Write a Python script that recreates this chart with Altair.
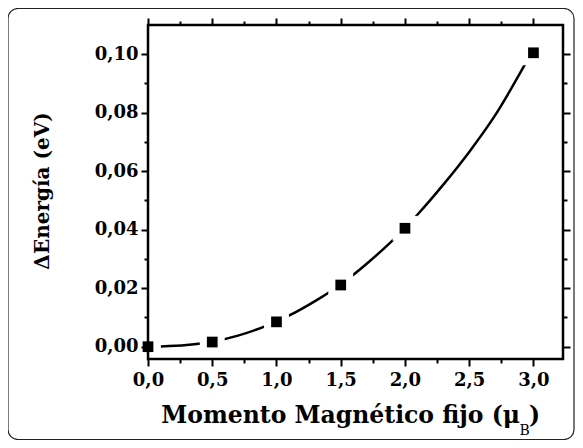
import altair as alt
import pandas as pd

# measured points
moment = [0.0, 0.5, 1.0, 1.5, 2.0, 3.0]
energy = [0.0, 0.0016, 0.0085, 0.0211, 0.0405, 0.1005]

# fitted curve
fit_x = [0.1, 0.3, 0.5, 0.7, 0.9, 1.1, 1.3, 1.5, 1.7, 1.9, 2.1, 2.3, 2.5, 2.7, 2.95]
fit_y = [0.0001, 0.0006, 0.0017, 0.0038, 0.0068, 0.0107, 0.0156, 0.0213, 0.0283, 0.0362, 0.0453, 0.0555, 0.0666, 0.0790, 0.0978]

x_major = [0.0, 0.5, 1.0, 1.5, 2.0, 2.5, 3.0]
x_minor = [0.25, 0.75, 1.25, 1.75, 2.25, 2.75]
y_major = [0.0, 0.02, 0.04, 0.06, 0.08, 0.10]
y_minor = [0.01, 0.03, 0.05, 0.07, 0.09]

x_title = "Momento Magnético fijo (μ"
x_title_sub = "B"
y_title = "ΔEnergía (eV)"

FONT = "DejaVu Serif"
pts = pd.DataFrame({"m": moment, "e": energy})
fit = pd.DataFrame({"m": fit_x, "e": fit_y})

xs = alt.Scale(domain=[0, 3.23], nice=False, zero=False)
ys = alt.Scale(domain=[-0.0042, 0.11], nice=False, zero=False)

def axis_layer(orient_x, orient_y, xvals, yvals, size, labels):
    ax = None
    ay = None
    common = dict(domain=False, grid=False, tickColor="black", tickWidth=2,
                  tickSize=size, title=None, labelFont=FONT, labelFontWeight="bold",
                  labelFontSize=18, labelColor="black", labelFlush=False, labelOverlap=False)
    if orient_x:
        ax = alt.Axis(orient=orient_x, values=xvals, labels=labels, labelPadding=5,
                      labelExpr="replace(format(datum.value, '.1f'), '.', ',')", **common)
    if orient_y:
        ay = alt.Axis(orient=orient_y, values=yvals, labels=labels, labelPadding=3,
                      labelExpr="replace(format(datum.value, '.2f'), '.', ',')", **common)
    return alt.Chart(pts).mark_point(opacity=0).encode(
        x=alt.X("m:Q", scale=xs, axis=ax),
        y=alt.Y("e:Q", scale=ys, axis=ay),
    )

layers = [
    axis_layer("bottom", "left", x_major, y_major, 7, True),
    axis_layer("bottom", "left", x_minor, y_minor, 4, False),
    axis_layer("top", "right", x_major, y_major, 7, False),
    axis_layer("top", "right", x_minor, y_minor, 4, False),
]

line = alt.Chart(fit).mark_line(color="black", strokeWidth=2.5, interpolate="monotone").encode(
    x=alt.X("m:Q", scale=xs, axis=None), y=alt.Y("e:Q", scale=ys, axis=None))
halo = alt.Chart(pts).transform_filter("datum.m > 0").mark_square(
    filled=True, color="white", opacity=1, size=620).encode(
    x=alt.X("m:Q", scale=xs, axis=None), y=alt.Y("e:Q", scale=ys, axis=None))
dots = alt.Chart(pts).mark_square(filled=True, color="black", opacity=1, size=115).encode(
    x=alt.X("m:Q", scale=xs, axis=None), y=alt.Y("e:Q", scale=ys, axis=None))

one = pd.DataFrame({"k": [0]})
border = alt.Chart(one).mark_rect(fill=None, stroke="#222", strokeWidth=1.2, cornerRadius=10).encode(
    x=alt.value(-140), x2=alt.value(426), y=alt.value(-16.5), y2=alt.value(414.5))

ytitle = alt.Chart(one).mark_text(text=y_title, font=FONT, fontWeight="bold", fontSize=20,
                                   angle=270, align="center", baseline="middle", color="black").encode(
    x=alt.value(-105), y=alt.value(166))
xt1 = alt.Chart(one).mark_text(text=x_title, font=FONT, fontWeight="bold", fontSize=23.5,
                               align="right", baseline="alphabetic", color="black").encode(
    x=alt.value(372), y=alt.value(398))
xt2 = alt.Chart(one).mark_text(text=x_title_sub, font=FONT, fontSize=14,
                               align="left", baseline="alphabetic", color="black").encode(
    x=alt.value(371.5), y=alt.value(410))
xt3 = alt.Chart(one).mark_text(text=")", font=FONT, fontWeight="bold", fontSize=23.5,
                               align="left", baseline="alphabetic", color="black").encode(
    x=alt.value(381), y=alt.value(398))

chart = alt.layer(*layers, line, halo, dots, border, ytitle, xt1, xt2, xt3).resolve_axis(
    x="independent", y="independent").properties(
    width=415, height=334, autosize=alt.AutoSizeParams(type="none"),
    padding={"left": 140, "top": 17, "right": 12, "bottom": 81},
    background="white").configure_view(stroke="black", strokeWidth=2.5)

chart.save("out.html", embed_options={"renderer": "svg", "actions": False})
